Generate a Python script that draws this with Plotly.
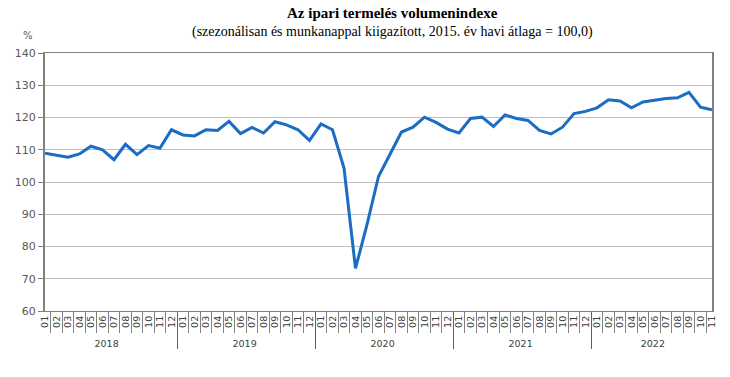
import plotly.graph_objects as go

years = ["2018", "2019", "2020", "2021", "2022"]
months = ["01", "02", "03", "04", "05", "06", "07", "08", "09", "10", "11", "12"]
values = [
    108.9, 108.2, 107.7, 108.7, 111.1, 110.0, 106.9, 111.7, 108.5, 111.3, 110.5, 116.2,
    114.6, 114.3, 116.2, 116.0, 118.8, 115.0, 116.9, 115.2, 118.7, 117.7, 116.2, 112.9,
    118.0, 116.2, 104.3, 73.2, 86.8, 101.7, 108.4, 115.5, 117.0, 120.1, 118.5, 116.4,
    115.2, 119.7, 120.1, 117.2, 120.8, 119.7, 119.1, 116.0, 114.9, 117.0, 121.2, 121.9,
    123.0, 125.5, 125.1, 123.0, 124.8, 125.3, 125.9, 126.1, 127.8, 123.2, 122.4,
]

x_year = []
x_month = []
for i in range(len(values)):
    x_year.append(years[i // 12])
    x_month.append(months[i % 12])

title = "Az ipari termelés volumenindexe"
subtitle = "(szezonálisan és munkanappal kiigazított, 2015. év havi átlaga = 100,0)"
y_unit = "%"

W, H = 730, 377
L, R, T, B = 45, 18, 53, 66

fig = go.Figure()
fig.add_trace(go.Scatter(
    x=[x_year, x_month], y=values, mode="lines",
    line=dict(color="#1a6cc4", width=3),
    hoverinfo="skip",
))

ann_px = [
    ("<b>" + title + "</b>", 392, 13, dict(family="Liberation Serif", size=15, color="#000")),
    (subtitle, 392, 32, dict(family="Liberation Serif", size=14, color="#000")),
    (y_unit, 28, 35, dict(family="DejaVu Sans", size=10, color="#595959")),
]
pw = W - L - R
ph = H - T - B
annotations = []
for text, px, py, font in ann_px:
    annotations.append(dict(
        text=text, xref="paper", yref="paper",
        x=(px - L) / pw, y=1 + (T - py) / ph,
        xanchor="center", yanchor="middle", showarrow=False, font=font,
    ))

fig.update_layout(
    width=W, height=H,
    margin=dict(l=L, r=R, t=T, b=B),
    paper_bgcolor="white", plot_bgcolor="white",
    showlegend=False,
    annotations=annotations,
)

fig.update_xaxes(
    type="multicategory",
    tickangle=-90,
    tickfont=dict(family="DejaVu Sans", size=9.5, color="#404040"),
    ticks="outside", ticklen=21, tickcolor="#808080", tickwidth=1,
    tickson="boundaries",
    showdividers=True, dividercolor="#606060", dividerwidth=1,
    showline=True, linecolor="#808080", linewidth=1, mirror=True,
    showgrid=False,
)
fig.update_yaxes(
    range=[60, 140], dtick=10,
    tickfont=dict(family="DejaVu Sans", size=11, color="#595959"),
    ticks="outside", ticklen=5, tickcolor="#808080",
    showgrid=True, gridcolor="#c0c0c0", gridwidth=1,
    showline=True, linecolor="#808080", linewidth=2, mirror=True,
    zeroline=False,
)

fig.write_html(
    "out.html",
    config={"displayModeBar": False, "staticPlot": True},
    post_script="document.body.style.margin='0';document.body.style.overflow='hidden';",
)
